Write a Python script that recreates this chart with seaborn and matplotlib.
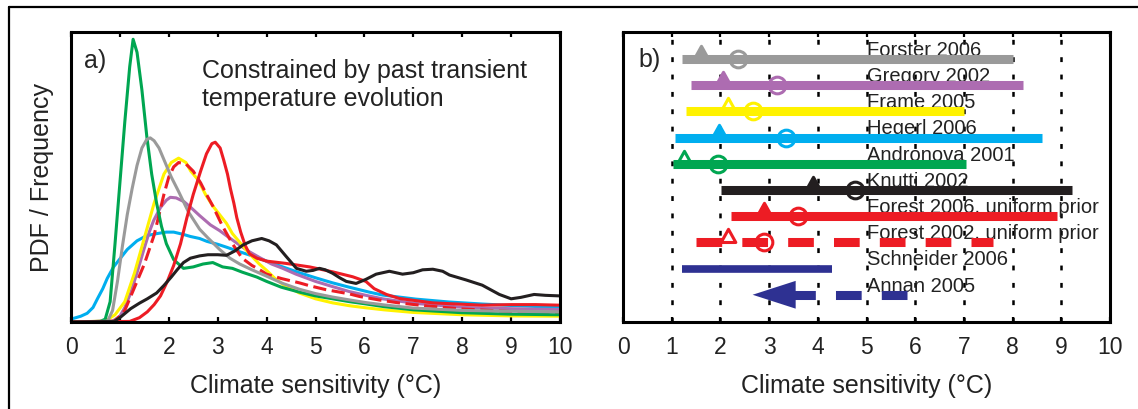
import matplotlib
matplotlib.use("Agg")
import matplotlib.pyplot as plt
from matplotlib.lines import Line2D
import seaborn as sns

# ---------------- panel a: PDFs (height as fraction of the axes) ----------------
hegerl_x = [0, 0.2, 0.33, 0.45, 0.54, 0.65, 0.74, 0.87, 1.01, 1.15, 1.35, 1.55, 1.76, 1.95, 2.1, 2.3,
            2.44, 2.63, 2.78, 3.0, 3.18, 3.4, 3.65, 4.0, 4.33, 4.67, 5.01, 5.35, 5.69, 6.1, 6.37,
            7.05, 7.73, 8.41, 9.0, 10]
hegerl_y = [0.01, 0.02, 0.03, 0.05, 0.08, 0.115, 0.15, 0.19, 0.22, 0.25, 0.28, 0.298, 0.305, 0.31,
            0.31, 0.302, 0.295, 0.288, 0.278, 0.268, 0.258, 0.245, 0.231, 0.21, 0.19, 0.17, 0.152,
            0.135, 0.12, 0.103, 0.093, 0.079, 0.069, 0.062, 0.057, 0.05]

gregory_x = [0, 0.85, 1.0, 1.1, 1.22, 1.35, 1.49, 1.6, 1.69, 1.83, 1.95, 2.03, 2.15, 2.31, 2.45, 2.63,
             2.85, 3.04, 3.2, 3.45, 3.65, 3.86, 4.1, 4.33, 4.6, 5.0, 5.35, 5.69, 6.03, 6.37, 7.05,
             8.07, 9.0, 10]
gregory_y = [0, 0.003, 0.02, 0.05, 0.1, 0.17, 0.25, 0.31, 0.35, 0.395, 0.42, 0.43, 0.428, 0.415,
             0.395, 0.367, 0.335, 0.315, 0.295, 0.265, 0.242, 0.222, 0.2, 0.185, 0.165, 0.14, 0.122,
             0.105, 0.092, 0.08, 0.064, 0.05, 0.046, 0.043]

frame_x = [0, 0.7, 0.9, 1.1, 1.3, 1.5, 1.7, 1.9, 2.05, 2.2, 2.35, 2.45, 2.6, 2.75, 2.9, 3.04, 3.18,
           3.3, 3.45, 3.65, 3.85, 4.0, 4.16, 4.33, 4.67, 5.0, 5.35, 5.7, 6.03, 6.4, 7.0, 8.0, 9.0, 10]
frame_y = [0, 0.003, 0.025, 0.07, 0.17, 0.29, 0.41, 0.51, 0.55, 0.565, 0.55, 0.52, 0.49, 0.44, 0.4,
           0.37, 0.34, 0.305, 0.275, 0.235, 0.2, 0.178, 0.152, 0.13, 0.1, 0.08, 0.066, 0.056, 0.049,
           0.042, 0.033, 0.025, 0.021, 0.02]

forest02_x = [0, 0.9, 1.1, 1.2, 1.35, 1.5, 1.6, 1.7, 1.8, 1.9, 2.0, 2.1, 2.2, 2.35, 2.5, 2.65, 2.77,
              2.9, 3.1, 3.3, 3.5, 3.7, 3.86, 4.0, 4.3, 4.67, 4.88, 5.2, 5.69, 5.9, 6.3, 6.7, 7.3, 8.0,
              9.0, 10]
forest02_y = [0, 0.003, 0.04, 0.08, 0.14, 0.2, 0.25, 0.3, 0.37, 0.44, 0.5, 0.535, 0.55, 0.545, 0.52,
              0.48, 0.44, 0.4, 0.33, 0.27, 0.22, 0.195, 0.18, 0.165, 0.15, 0.135, 0.125, 0.112, 0.097,
              0.088, 0.076, 0.066, 0.055, 0.045, 0.036, 0.03]

andronova_x = [0, 0.6, 0.7, 0.8, 0.9, 1.0, 1.1, 1.2, 1.27, 1.35, 1.45, 1.55, 1.65, 1.75, 1.85, 1.95,
               2.1, 2.3, 2.5, 2.7, 2.9, 3.1, 3.3, 3.5, 3.8, 4.0, 4.3, 4.67, 5.0, 5.35, 5.7, 6.0, 6.4,
               7.0, 8.0, 9.0, 10]
andronova_y = [0, 0.002, 0.01, 0.07, 0.27, 0.48, 0.69, 0.88, 0.975, 0.93, 0.8, 0.64, 0.51, 0.41,
               0.33, 0.27, 0.215, 0.185, 0.19, 0.2, 0.205, 0.19, 0.185, 0.172, 0.155, 0.14, 0.12,
               0.103, 0.09, 0.08, 0.07, 0.063, 0.053, 0.042, 0.032, 0.027, 0.025]

forster_x = [0, 0.75, 0.85, 0.95, 1.05, 1.15, 1.25, 1.35, 1.45, 1.55, 1.62, 1.7, 1.8, 1.9, 2.05,
             2.2, 2.4, 2.63, 2.8, 3.04, 3.25, 3.45, 3.7, 4.0, 4.33, 4.67, 5.0, 5.35, 5.7, 6.03, 6.4,
             7.0, 8.0, 9.0, 10]
forster_y = [0, 0.003, 0.04, 0.14, 0.26, 0.37, 0.46, 0.54, 0.6, 0.63, 0.635, 0.625, 0.6, 0.56, 0.5,
             0.45, 0.38, 0.32, 0.29, 0.25, 0.22, 0.2, 0.18, 0.158, 0.133, 0.113, 0.098, 0.086, 0.076,
             0.067, 0.059, 0.048, 0.04, 0.037, 0.035]

forest06_x = [0, 1.2, 1.4, 1.56, 1.7, 1.83, 1.97, 2.1, 2.24, 2.37, 2.5, 2.65, 2.77, 2.88, 2.95, 3.05,
              3.12, 3.2, 3.26, 3.33, 3.39, 3.47, 3.56, 3.65, 3.8, 4.0, 4.4, 4.88, 5.35, 5.76, 6.03,
              6.2, 6.45, 6.72, 7.4, 8.4, 9.0, 9.5, 10]
forest06_y = [0, 0.002, 0.015, 0.035, 0.06, 0.09, 0.14, 0.195, 0.27, 0.36, 0.44, 0.52, 0.58, 0.615,
              0.62, 0.6, 0.56, 0.51, 0.46, 0.41, 0.36, 0.31, 0.265, 0.235, 0.22, 0.21, 0.202, 0.19,
              0.173, 0.156, 0.14, 0.115, 0.095, 0.081, 0.066, 0.058, 0.06, 0.06, 0.058]

knutti_x = [0, 0.88, 1.0, 1.22, 1.4, 1.56, 1.75, 1.9, 2.05, 2.17, 2.3, 2.44, 2.63, 2.8, 3.0, 3.18,
            3.35, 3.52, 3.7, 3.9, 4.05, 4.2, 4.4, 4.61, 4.81, 4.95, 5.08, 5.2, 5.35, 5.5, 5.63, 5.83,
            6.03, 6.24, 6.51, 6.78, 7.0, 7.19, 7.4, 7.6, 7.74, 8.08, 8.41, 8.76, 9.0, 9.2, 9.47,
            9.7, 10]
knutti_y = [0, 0.002, 0.015, 0.046, 0.065, 0.08, 0.1, 0.126, 0.155, 0.18, 0.205, 0.22, 0.228, 0.232,
            0.232, 0.23, 0.245, 0.266, 0.28, 0.288, 0.28, 0.266, 0.226, 0.185, 0.175, 0.178, 0.185,
            0.18, 0.168, 0.152, 0.14, 0.133, 0.147, 0.165, 0.175, 0.165, 0.17, 0.18, 0.182, 0.175,
            0.162, 0.145, 0.127, 0.095, 0.08, 0.085, 0.095, 0.092, 0.09]

# ---------------- panel b: ranges, mode (triangle), median (circle) ----------------
studies = ["Forster 2006", "Gregory 2002", "Frame 2005", "Hegerl 2006", "Andronova 2001",
           "Knutti 2002", "Forest 2006, uniform prior", "Forest 2002, uniform prior",
           "Schneider 2006", "Annan 2005"]
range_lo = [1.2, 1.4, 1.3, 1.06, 1.02, 2.02, 2.21, 1.5, 1.2, 2.66]
range_hi = [8.01, 8.21, 7.0, 8.61, 7.04, 9.22, 8.9, 7.6, 4.29, 5.83]
mode_val = [1.61, 2.05, 2.15, 1.98, 1.25, 3.9, 2.89, 2.15, None, None]
median_val = [2.37, 3.17, 2.66, 3.34, 1.94, 4.77, 3.6, 2.9, None, None]
annan_arrow_base = 3.51

gray = "#9a9a9a"
purple = "#ad6cb1"
yellow = "#fff200"
cyan = "#00aeef"
green = "#00a651"
black = "#231f20"
red = "#ed1c24"
navy = "#2e3192"

row_colors = [gray, purple, yellow, cyan, green, black, red, red, navy, navy]
mode_filled = [True, True, False, True, False, True, True, False, False, False]

sns.set_style("white")
plt.rcParams["font.family"] = ["Liberation Sans", "DejaVu Sans"]
plt.rcParams["lines.scale_dashes"] = False

fig = plt.figure(figsize=(11.38, 4.09), dpi=100)
ax_a = fig.add_axes([0.0624, 0.2127, 0.4297, 0.709])
ax_b = fig.add_axes([0.5475, 0.2127, 0.428, 0.709])

# outer frame (top and left edge of the page)
fig.add_artist(Line2D([0.0075, 1.0], [0.983, 0.983], color="black", lw=1.6))
fig.add_artist(Line2D([0.0075, 0.0075], [0.0, 0.983], color="black", lw=1.6))

# ---- panel a ----
curves = [
    (hegerl_x, hegerl_y, cyan, None),
    (gregory_x, gregory_y, purple, None),
    (frame_x, frame_y, yellow, None),
    (forest02_x, forest02_y, red, (9.5, 4.0)),
    (andronova_x, andronova_y, green, None),
    (forster_x, forster_y, gray, None),
    (forest06_x, forest06_y, red, None),
    (knutti_x, knutti_y, black, None),
]
for xs, ys, col, dash in curves:
    sns.lineplot(x=xs, y=ys, ax=ax_a, color=col, lw=2.2)
    if dash is not None:
        ax_a.lines[-1].set_dashes(dash)

ax_a.set_xlim(0, 10)
ax_a.set_ylim(0, 1)
ax_a.set_yticks([])
ax_a.set_xticks(range(0, 11))
ax_a.set_ylabel("PDF / Frequency", fontsize=18, labelpad=12)
ax_a.set_xlabel("Climate sensitivity (°C)", fontsize=18, labelpad=11)
ax_a.text(0.49, 0.9, "a)", fontsize=18, ha="center", va="center")
ax_a.text(2.68, 0.8175, "Constrained by past transient\ntemperature evolution",
          fontsize=18, ha="left", va="center", linespacing=1.2, color="#222222")

# ---- panel b ----
for gx in range(1, 10):
    ax_b.axvline(gx, color="black", lw=1.8, ls=(0, (3.5, 9)), zorder=1)

for i, name in enumerate(studies):
    col = row_colors[i]
    ax_b.text(5.0, i - 0.12, name, fontsize=14.5, ha="left", va="baseline",
              color="#222222", zorder=2)
    if name.startswith("Annan"):
        ln, = ax_b.plot([range_hi[i], annan_arrow_base], [i, i], color=col, lw=6.5,
                        solid_capstyle="butt", dash_capstyle="butt", zorder=3)
        ln.set_dashes((18.5, 14.5))
        ax_b.annotate("", xy=(range_lo[i], i), xytext=(annan_arrow_base, i),
                      arrowprops=dict(arrowstyle="-|>,head_length=31,head_width=10",
                                      mutation_scale=1, color=col, lw=0,
                                      shrinkA=0, shrinkB=0), zorder=4)
        continue
    lw = 5.5 if name.startswith("Schneider") else 6.5
    ln, = ax_b.plot([range_lo[i], range_hi[i]], [i, i], color=col, lw=lw,
                    solid_capstyle="butt", dash_capstyle="butt", zorder=3)
    if name.startswith("Forest 2002"):
        ln.set_dashes((18.5, 14.5))
    if mode_val[i] is not None:
        ax_b.plot([mode_val[i]], [i], ls="none", color=col,
                  marker=[(-0.5, 0), (0.5, 0), (0, 0.9), (-0.5, 0)], ms=19, mew=2.2,
                  mfc=col if mode_filled[i] else "none", mec=col, zorder=4)
        ax_b.plot([median_val[i]], [i], ls="none", color=col, marker="o", ms=12, mew=2.2,
                  mfc="none", mec=col, zorder=4)

ax_b.set_xlim(0, 10)
ax_b.set_ylim(10.04, -1.03)
ax_b.set_yticks([])
ax_b.set_xticks(range(0, 11))
ax_b.set_xlabel("Climate sensitivity (°C)", fontsize=18, labelpad=11)
ax_b.text(0.55, 0.04, "b)", fontsize=18, ha="center", va="center")

for ax in (ax_a, ax_b):
    for sp in ax.spines.values():
        sp.set_visible(True)
        sp.set_color("black")
        sp.set_linewidth(2.2)
    ax.tick_params(axis="x", direction="in", length=3.5, width=1.6, top=True, bottom=True,
                   labelsize=16.5, pad=10, colors="black", labelcolor="#222222")
    ax.xaxis.label.set_color("#222222")
    ax.yaxis.label.set_color("#222222")

fig.savefig("out.png", dpi=100)
